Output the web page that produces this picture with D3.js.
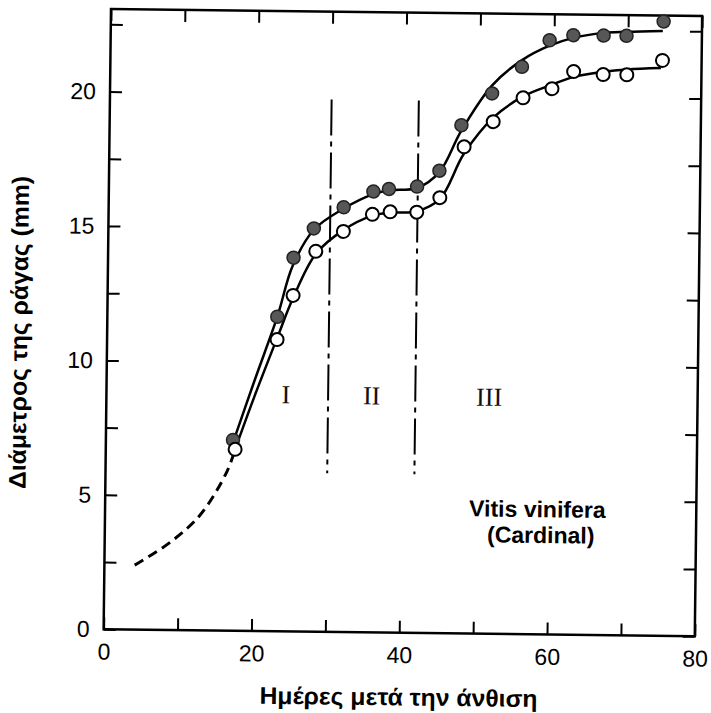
<!DOCTYPE html>
<html><head><meta charset="utf-8">
<script src="https://cdn.jsdelivr.net/npm/d3@7"></script>
<style>html,body{margin:0;padding:0;background:#fff}</style>
</head><body>
<svg id="chart" width="711" height="713"></svg>
<script>
// ---- data ----
const filledDays = [17.2, 23.0, 25.1, 27.8, 31.8, 35.8, 37.9, 41.7, 44.7, 47.6, 51.7, 55.7, 59.4, 62.6, 66.7, 69.8, 74.8];
const filledDiam = [7.1, 11.7, 13.9, 15.0, 15.8, 16.4, 16.5, 16.6, 17.2, 18.9, 20.1, 21.1, 22.1, 22.3, 22.3, 22.3, 22.85];
const openDays = [17.5, 23.0, 25.1, 28.1, 31.8, 35.7, 38.1, 41.7, 44.8, 48.0, 51.9, 55.9, 59.8, 62.7, 66.7, 69.9, 74.7];
const openDiam = [6.75, 10.85, 12.5, 14.15, 14.9, 15.55, 15.65, 15.65, 16.2, 18.1, 19.05, 19.95, 20.3, 20.95, 20.85, 20.85, 21.4];

const filledFitDays = [17.2, 20.0, 23.0, 25.0, 27.8, 31.8, 35.8, 38.0, 41.7, 44.7, 47.6, 51.7, 55.7, 59.4, 62.6, 66.7, 69.8, 74.7];
const filledFitDiam = [7.0, 9.3, 11.7, 13.6, 14.95, 15.75, 16.3, 16.45, 16.55, 17.15, 18.7, 20.4, 21.35, 21.9, 22.2, 22.4, 22.45, 22.5];
const openFitDays = [17.5, 20.0, 23.0, 25.1, 28.1, 31.8, 35.7, 38.1, 41.7, 44.8, 48.0, 51.9, 55.9, 59.8, 62.7, 66.7, 69.9, 74.5];
const openFitDiam = [6.75, 8.7, 10.9, 12.4, 14.05, 14.95, 15.5, 15.62, 15.68, 16.15, 17.85, 19.2, 20.0, 20.45, 20.75, 20.95, 21.05, 21.12];
const earlyDays = [4.1, 8.8, 12.9, 16.4, 17.5];
const earlyDiam = [2.4, 3.25, 4.3, 5.9, 6.75];

const stageBounds = [30, 41.8];
const stageRange = [5.9, 19.8];
const stageLabels = ["I", "II", "III"];
const stageLabelDays = [24.3, 35.9, 51.8];
const stageLabelDiam = 8.8;

const xTicks = [0, 10, 20, 30, 40, 50, 60, 70, 80];
const xTickLabels = [0, 20, 40, 60, 80];
const yTicks = [0, 2.5, 5, 7.5, 10, 12.5, 15, 17.5, 20, 22.5];
const yTickLabels = [0, 5, 10, 15, 20];

const xTitle = "Ημέρες μετά την άνθιση";
const yTitle = "Διάμετρος της ράγας (mm)";
const noteLines = ["Vitis vinifera", "(Cardinal)"];

// ---- layout ----
const frame = {left: 107.3, right: 698.5, top: 12.5, bottom: 632.8};
const x = d3.scaleLinear().domain([0, 80]).range([frame.left, frame.right]);
const y = d3.scaleLinear().domain([0, 23.07]).range([frame.bottom, frame.top]);

const svg = d3.select('#chart');
svg.append('rect').attr('width', 711).attr('height', 713).attr('fill', '#fff');
const g = svg.append('g').attr('transform', 'rotate(0.68,403,322)');

const tickFont = '"Liberation Sans", Arial, sans-serif';

function styleAxis(sel) {
  sel.select('.domain').remove();
  sel.selectAll('line').attr('stroke', '#000').attr('stroke-width', 2);
  sel.selectAll('text').attr('font-family', tickFont).attr('font-size', 23).attr('fill', '#000');
}

g.append('g').attr('transform', `translate(0,${frame.bottom})`)
  .call(d3.axisBottom(x).tickValues(xTicks).tickSize(-12).tickSizeOuter(0).tickPadding(14)
    .tickFormat(d => xTickLabels.includes(d) ? d : ''))
  .call(styleAxis);
g.append('g').attr('transform', `translate(0,${frame.top})`)
  .call(d3.axisTop(x).tickValues(xTicks).tickSize(-12).tickSizeOuter(0).tickFormat(''))
  .call(styleAxis);
g.append('g').attr('transform', `translate(${frame.left},0)`)
  .call(d3.axisLeft(y).tickValues(yTicks).tickSize(-12).tickSizeOuter(0).tickPadding(14)
    .tickFormat(d => yTickLabels.includes(d) ? d : ''))
  .call(styleAxis);
g.append('g').attr('transform', `translate(${frame.right},0)`)
  .call(d3.axisRight(y).tickValues(yTicks).tickSize(-12).tickSizeOuter(0).tickFormat(''))
  .call(styleAxis);

g.append('rect')
  .attr('x', frame.left).attr('y', frame.top)
  .attr('width', frame.right - frame.left).attr('height', frame.bottom - frame.top)
  .attr('fill', 'none').attr('stroke', '#000').attr('stroke-width', 2.5);

// stage boundaries
g.selectAll('.stage').data(stageBounds).join('line')
  .attr('x1', d => x(d)).attr('x2', d => x(d))
  .attr('y1', y(stageRange[1])).attr('y2', y(stageRange[0]))
  .attr('stroke', '#000').attr('stroke-width', 2)
  .attr('stroke-dasharray', '36,6,5,6');

g.selectAll('.stageLabel').data(stageLabels).join('text')
  .attr('x', (d, i) => x(stageLabelDays[i])).attr('y', y(stageLabelDiam))
  .attr('dy', '0.33em')
  .attr('text-anchor', 'middle')
  .attr('font-family', '"Liberation Serif", "Times New Roman", serif')
  .attr('font-size', 26).attr('fill', '#111')
  .text(d => d);

// curves
const line = d3.line().x(d => x(d[0])).y(d => y(d[1])).curve(d3.curveCatmullRom.alpha(0.5));
g.append('path').attr('d', line(earlyDays.map((d, i) => [d, earlyDiam[i]])))
  .attr('fill', 'none').attr('stroke', '#000').attr('stroke-width', 3).attr('stroke-dasharray', '10,6');
g.append('path').attr('d', line(filledFitDays.map((d, i) => [d, filledFitDiam[i]])))
  .attr('fill', 'none').attr('stroke', '#000').attr('stroke-width', 2.5);
g.append('path').attr('d', line(openFitDays.map((d, i) => [d, openFitDiam[i]])))
  .attr('fill', 'none').attr('stroke', '#000').attr('stroke-width', 2.5);

// points
g.selectAll('.filled').data(filledDays).join('circle')
  .attr('cx', d => x(d)).attr('cy', (d, i) => y(filledDiam[i])).attr('r', 6.5)
  .attr('fill', '#575757').attr('stroke', '#222').attr('stroke-width', 1.5);
g.selectAll('.open').data(openDays).join('circle')
  .attr('cx', d => x(d)).attr('cy', (d, i) => y(openDiam[i])).attr('r', 6.5)
  .attr('fill', '#fff').attr('stroke', '#000').attr('stroke-width', 2);

// annotation
g.selectAll('.note').data(noteLines).join('text')
  .attr('x', (d, i) => x(i === 0 ? 58.5 : 59.0))
  .attr('y', (d, i) => y(i === 0 ? 4.36 : 3.40))
  .attr('text-anchor', 'middle')
  .attr('font-family', tickFont).attr('font-weight', 'bold').attr('font-size', 23).attr('fill', '#000')
  .text(d => d);

// titles
g.append('text').attr('x', 403).attr('y', 697).attr('dy', '0.35em')
  .attr('text-anchor', 'middle').attr('font-family', tickFont).attr('font-weight', 'bold')
  .attr('font-size', 24).attr('textLength', 278).attr('lengthAdjust', 'spacingAndGlyphs')
  .attr('fill', '#000').text(xTitle);
g.append('text').attr('transform', 'translate(19,337) rotate(-90)').attr('dy', '0.35em')
  .attr('text-anchor', 'middle').attr('font-family', tickFont).attr('font-weight', 'bold')
  .attr('font-size', 24).attr('textLength', 313).attr('lengthAdjust', 'spacingAndGlyphs')
  .attr('fill', '#000').text(yTitle);
</script>
</body></html>
